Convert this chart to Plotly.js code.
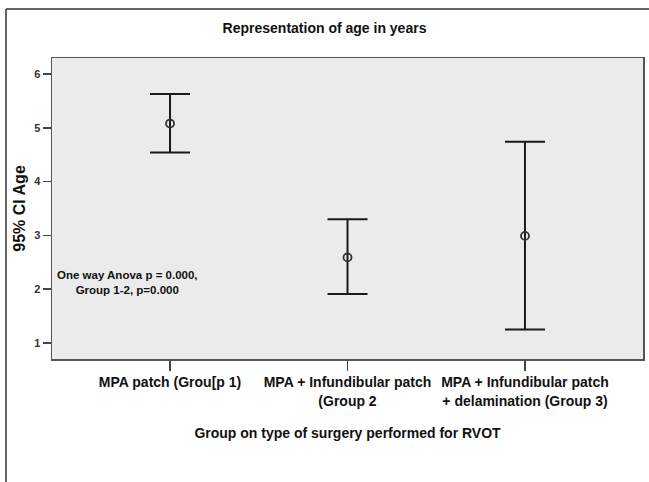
<!DOCTYPE html>
<html>
<head>
<meta charset="utf-8">
<script src="https://cdn.plot.ly/plotly-3.0.1.min.js"></script>
<style>html,body{margin:0;padding:0;background:#fff;}#chart{width:649px;height:482px;}</style>
</head>
<body>
<div id="chart"></div>
<script>
const categories = ["G1", "G2", "G3"];
const tickLabels = ["MPA patch (Grou[p 1)", "MPA + Infundibular patch<br>(Group 2", "MPA + Infundibular patch<br>+ delamination (Group 3)"];
const meanAge = [5.08, 2.59, 2.99];
const upperCI = [5.63, 3.30, 4.74];
const lowerCI = [4.54, 1.91, 1.25];
const yTicks = [1, 2, 3, 4, 5, 6];

const FONT = '"Liberation Sans Narrow", "Arial Narrow", "Liberation Sans", Arial, sans-serif';
const errPlus = upperCI.map((u, i) => u - meanAge[i]);
const errMinus = lowerCI.map((l, i) => meanAge[i] - l);

const trace = {
  type: 'scatter',
  mode: 'markers',
  x: categories,
  y: meanAge,
  marker: {symbol: 'circle-open', size: 8, color: '#333', line: {width: 1.8, color: '#333'}},
  error_y: {type: 'data', symmetric: false, array: errPlus, arrayminus: errMinus,
            color: '#1a1a1a', thickness: 2, width: 20},
  hoverinfo: 'skip'
};

const layout = {
  width: 649, height: 482,
  margin: {l: 52, r: 6, t: 58, b: 123},
  paper_bgcolor: '#ffffff',
  plot_bgcolor: '#ebebeb',
  showlegend: false,
  font: {family: FONT, color: '#111'},
  title: {text: '<b>Representation of age in years</b>', x: 0.5, xanchor: 'center', xref: 'container',
          y: 1 - 28/482, yanchor: 'middle', yref: 'container', font: {size: 14, family: FONT, color: '#111'}},
  xaxis: {
    type: 'category', range: [-0.665, 2.665],
    tickvals: categories, ticktext: tickLabels.map(t => '<b>' + t.replace('<br>', '</b><br><b>') + '</b>'),
    ticks: 'outside', ticklen: 10, tickwidth: 1.3, tickcolor: '#444',
    showline: true, mirror: true, linecolor: '#555', linewidth: 1.5,
    showgrid: false, zeroline: false,
    tickfont: {size: 14, family: FONT, color: '#111'},
    title: {text: '<b>Group on type of surgery performed for RVOT</b>', standoff: 20, font: {size: 14, family: FONT, color: '#111'}}
  },
  yaxis: {
    range: [0.7, 6.3],
    tickvals: yTicks, ticktext: yTicks.map(v => '<b>' + v + '</b>'),
    ticks: 'outside', ticklen: 8, tickwidth: 1.3, tickcolor: '#444',
    showline: true, mirror: true, linecolor: '#555', linewidth: 1.5,
    showgrid: false, zeroline: false,
    tickfont: {size: 11, family: FONT, color: '#333'},
    title: {text: '<b>95% CI Age</b>', standoff: 4, font: {size: 16, family: '"Liberation Sans", Arial, sans-serif', color: '#111'}}
  },
  annotations: [{
    xref: 'paper', yref: 'y', x: (127 - 52) / 591, y: 2.12, xanchor: 'center', yanchor: 'middle',
    text: '<b>One way Anova p = 0.000,</b><br><b>Group 1-2, p=0.000</b>', showarrow: false, align: 'center',
    font: {size: 11.5, family: FONT, color: '#111'}
  }],
  shapes: [
    {type: 'line', xref: 'paper', yref: 'paper', x0: (6 - 52) / 591, x1: (649 - 52) / 591, y0: (359 - 9) / 301, y1: (359 - 9) / 301, line: {color: '#333', width: 1.5}},
    {type: 'line', xref: 'paper', yref: 'paper', x0: (6 - 52) / 591, x1: (6 - 52) / 591, y0: (359 - 9) / 301, y1: (359 - 482) / 301, line: {color: '#333', width: 1.5}}
  ]
};

Plotly.newPlot('chart', [trace], layout, {displayModeBar: false, staticPlot: true});
</script>
</body>
</html>
